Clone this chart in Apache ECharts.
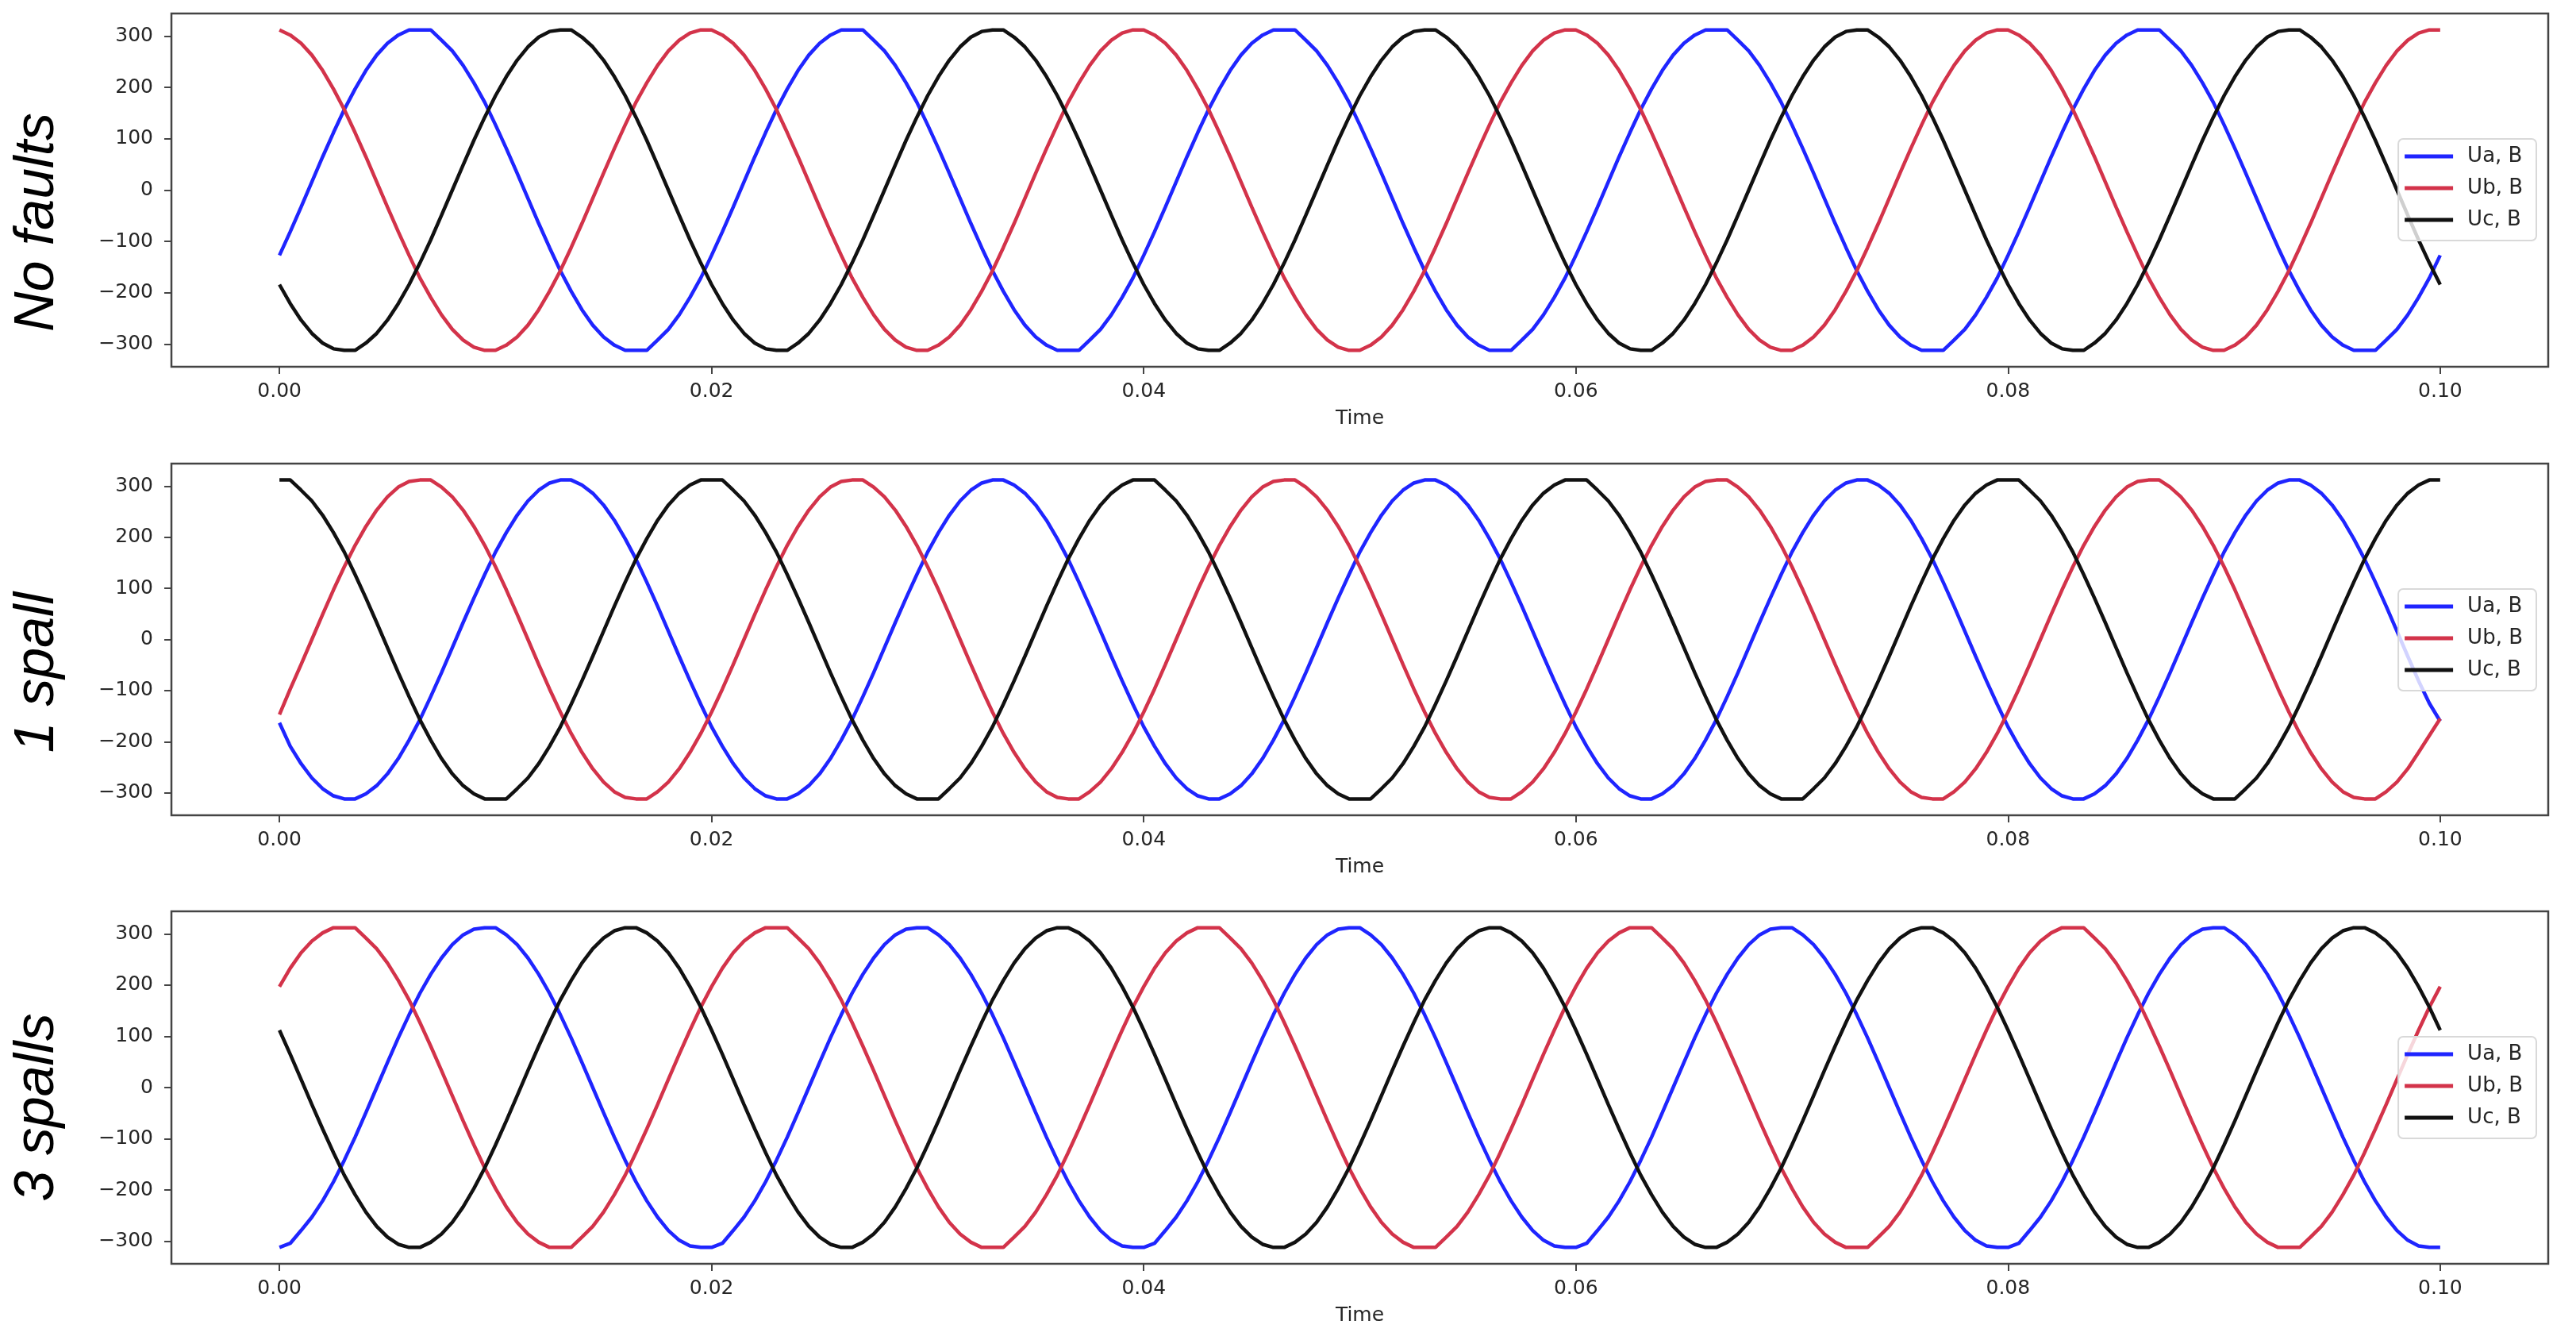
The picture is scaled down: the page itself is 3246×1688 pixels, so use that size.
<!DOCTYPE html>
<html>
<head>
<meta charset="utf-8">
<script src="https://cdn.jsdelivr.net/npm/echarts@6/dist/echarts.min.js"></script>
<style>
  html, body { margin: 0; padding: 0; background: #fff; }
  #chart { width: 3246px; height: 1688px; }
</style>
</head>
<body>
<div id="chart"></div>
<script>
// sample times, s
const time = [
  0,0.0005,0.001,0.0015,0.002,0.0025,0.003,0.0035,0.004,0.0045,0.005,0.0055,0.006,0.0065,0.007,0.0075,0.008,0.0085,0.009,0.0095,0.01,0.0105,0.011,0.0115,0.012,0.0125,0.013,0.0135,0.014,0.0145,0.015,0.0155,0.016,0.0165,0.017,0.0175,0.018,0.0185,0.019,0.0195,
  0.02,0.0205,0.021,0.0215,0.022,0.0225,0.023,0.0235,0.024,0.0245,0.025,0.0255,0.026,0.0265,0.027,0.0275,0.028,0.0285,0.029,0.0295,0.03,0.0305,0.031,0.0315,0.032,0.0325,0.033,0.0335,0.034,0.0345,0.035,0.0355,0.036,0.0365,0.037,0.0375,0.038,0.0385,0.039,0.0395,
  0.04,0.0405,0.041,0.0415,0.042,0.0425,0.043,0.0435,0.044,0.0445,0.045,0.0455,0.046,0.0465,0.047,0.0475,0.048,0.0485,0.049,0.0495,0.05,0.0505,0.051,0.0515,0.052,0.0525,0.053,0.0535,0.054,0.0545,0.055,0.0555,0.056,0.0565,0.057,0.0575,0.058,0.0585,0.059,0.0595,
  0.06,0.0605,0.061,0.0615,0.062,0.0625,0.063,0.0635,0.064,0.0645,0.065,0.0655,0.066,0.0665,0.067,0.0675,0.068,0.0685,0.069,0.0695,0.07,0.0705,0.071,0.0715,0.072,0.0725,0.073,0.0735,0.074,0.0745,0.075,0.0755,0.076,0.0765,0.077,0.0775,0.078,0.0785,0.079,0.0795,
  0.08,0.0805,0.081,0.0815,0.082,0.0825,0.083,0.0835,0.084,0.0845,0.085,0.0855,0.086,0.0865,0.087,0.0875,0.088,0.0885,0.089,0.0895,0.09,0.0905,0.091,0.0915,0.092,0.0925,0.093,0.0935,0.094,0.0945,0.095,0.0955,0.096,0.0965,0.097,0.0975,0.098,0.0985,0.099,0.0995,
  0.1
];

const xTicks = [0, 0.02, 0.04, 0.06, 0.08, 0.1];
const yTicks = [-300, -200, -100, 0, 100, 200, 300];
const panelTitles = ['No faults', '1 spall', '3 spalls'];
const seriesNames = ['Ua, B', 'Ub, B', 'Uc, B'];

// No faults
const noFaultUa = [
  -127,-81,-33,16,65,112,157,197,233,263,286,302,312,312,312,292,271,243,209,171,127,81,33,-16,-65,-112,-157,-197,-233,-263,-286,-302,-312,-312,-312,-292,-271,-243,-209,-171,
  -127,-81,-33,16,65,112,157,197,233,263,286,302,312,312,312,292,271,243,209,171,127,81,33,-16,-65,-112,-157,-197,-233,-263,-286,-302,-312,-312,-312,-292,-271,-243,-209,-171,
  -127,-81,-33,16,65,112,157,197,233,263,286,302,312,312,312,292,271,243,209,171,127,81,33,-16,-65,-112,-157,-197,-233,-263,-286,-302,-312,-312,-312,-292,-271,-243,-209,-171,
  -127,-81,-33,16,65,112,157,197,233,263,286,302,312,312,312,292,271,243,209,171,127,81,33,-16,-65,-112,-157,-197,-233,-263,-286,-302,-312,-312,-312,-292,-271,-243,-209,-171,
  -127,-81,-33,16,65,112,157,197,233,263,286,302,312,312,312,292,271,243,209,171,127,81,33,-16,-65,-112,-157,-197,-233,-263,-286,-302,-312,-312,-312,-292,-271,-243,-209,-171,
  -127
];
const noFaultUb = [
  312,302,286,263,233,197,157,112,65,16,-33,-81,-127,-171,-209,-243,-271,-292,-306,-312,-312,-302,-286,-263,-233,-197,-157,-112,-65,-16,33,81,127,171,209,243,271,292,306,312,
  312,302,286,263,233,197,157,112,65,16,-33,-81,-127,-171,-209,-243,-271,-292,-306,-312,-312,-302,-286,-263,-233,-197,-157,-112,-65,-16,33,81,127,171,209,243,271,292,306,312,
  312,302,286,263,233,197,157,112,65,16,-33,-81,-127,-171,-209,-243,-271,-292,-306,-312,-312,-302,-286,-263,-233,-197,-157,-112,-65,-16,33,81,127,171,209,243,271,292,306,312,
  312,302,286,263,233,197,157,112,65,16,-33,-81,-127,-171,-209,-243,-271,-292,-306,-312,-312,-302,-286,-263,-233,-197,-157,-112,-65,-16,33,81,127,171,209,243,271,292,306,312,
  312,302,286,263,233,197,157,112,65,16,-33,-81,-127,-171,-209,-243,-271,-292,-306,-312,-312,-302,-286,-263,-233,-197,-157,-112,-65,-16,33,81,127,171,209,243,271,292,306,312,
  312
];
const noFaultUc = [
  -184,-221,-253,-279,-298,-309,-312,-312,-298,-279,-253,-221,-184,-142,-97,-49,0,49,97,142,184,221,253,279,298,309,312,312,298,279,253,221,184,142,97,49,0,-49,-97,-142,
  -184,-221,-253,-279,-298,-309,-312,-312,-298,-279,-253,-221,-184,-142,-97,-49,0,49,97,142,184,221,253,279,298,309,312,312,298,279,253,221,184,142,97,49,0,-49,-97,-142,
  -184,-221,-253,-279,-298,-309,-312,-312,-298,-279,-253,-221,-184,-142,-97,-49,0,49,97,142,184,221,253,279,298,309,312,312,298,279,253,221,184,142,97,49,0,-49,-97,-142,
  -184,-221,-253,-279,-298,-309,-312,-312,-298,-279,-253,-221,-184,-142,-97,-49,0,49,97,142,184,221,253,279,298,309,312,312,298,279,253,221,184,142,97,49,0,-49,-97,-142,
  -184,-221,-253,-279,-298,-309,-312,-312,-298,-279,-253,-221,-184,-142,-97,-49,0,49,97,142,184,221,253,279,298,309,312,312,298,279,253,221,184,142,97,49,0,-49,-97,-142,
  -184
];

// 1 spall
const spall1Ua = [
  -163,-209,-243,-271,-292,-306,-312,-312,-302,-286,-263,-233,-197,-157,-112,-65,-16,33,81,127,171,209,243,271,292,306,312,312,302,286,263,233,197,157,112,65,16,-33,-81,-127,
  -171,-209,-243,-271,-292,-306,-312,-312,-302,-286,-263,-233,-197,-157,-112,-65,-16,33,81,127,171,209,243,271,292,306,312,312,302,286,263,233,197,157,112,65,16,-33,-81,-127,
  -171,-209,-243,-271,-292,-306,-312,-312,-302,-286,-263,-233,-197,-157,-112,-65,-16,33,81,127,171,209,243,271,292,306,312,312,302,286,263,233,197,157,112,65,16,-33,-81,-127,
  -171,-209,-243,-271,-292,-306,-312,-312,-302,-286,-263,-233,-197,-157,-112,-65,-16,33,81,127,171,209,243,271,292,306,312,312,302,286,263,233,197,157,112,65,16,-33,-81,-127,
  -171,-209,-243,-271,-292,-306,-312,-312,-302,-286,-263,-233,-197,-157,-112,-65,-16,33,81,127,171,209,243,271,292,306,312,312,302,286,263,233,197,157,112,65,16,-33,-81,-125,
  -160
];
const spall1Ub = [
  -147,-97,-49,0,49,97,142,184,221,253,279,298,309,312,312,298,279,253,221,184,142,97,49,0,-49,-97,-142,-184,-221,-253,-279,-298,-309,-312,-312,-298,-279,-253,-221,-184,
  -142,-97,-49,0,49,97,142,184,221,253,279,298,309,312,312,298,279,253,221,184,142,97,49,0,-49,-97,-142,-184,-221,-253,-279,-298,-309,-312,-312,-298,-279,-253,-221,-184,
  -142,-97,-49,0,49,97,142,184,221,253,279,298,309,312,312,298,279,253,221,184,142,97,49,0,-49,-97,-142,-184,-221,-253,-279,-298,-309,-312,-312,-298,-279,-253,-221,-184,
  -142,-97,-49,0,49,97,142,184,221,253,279,298,309,312,312,298,279,253,221,184,142,97,49,0,-49,-97,-142,-184,-221,-253,-279,-298,-309,-312,-312,-298,-279,-253,-221,-184,
  -142,-97,-49,0,49,97,142,184,221,253,279,298,309,312,312,298,279,253,221,184,142,97,49,0,-49,-97,-142,-184,-221,-253,-279,-298,-309,-312,-312,-298,-279,-253,-221,-188,
  -155
];
const spall1Uc = [
  312,312,292,271,243,209,171,127,81,33,-16,-65,-112,-157,-197,-233,-263,-286,-302,-312,-312,-312,-292,-271,-243,-209,-171,-127,-81,-33,16,65,112,157,197,233,263,286,302,312,
  312,312,292,271,243,209,171,127,81,33,-16,-65,-112,-157,-197,-233,-263,-286,-302,-312,-312,-312,-292,-271,-243,-209,-171,-127,-81,-33,16,65,112,157,197,233,263,286,302,312,
  312,312,292,271,243,209,171,127,81,33,-16,-65,-112,-157,-197,-233,-263,-286,-302,-312,-312,-312,-292,-271,-243,-209,-171,-127,-81,-33,16,65,112,157,197,233,263,286,302,312,
  312,312,292,271,243,209,171,127,81,33,-16,-65,-112,-157,-197,-233,-263,-286,-302,-312,-312,-312,-292,-271,-243,-209,-171,-127,-81,-33,16,65,112,157,197,233,263,286,302,312,
  312,312,292,271,243,209,171,127,81,33,-16,-65,-112,-157,-197,-233,-263,-286,-302,-312,-312,-312,-292,-271,-243,-209,-171,-127,-81,-33,16,65,112,157,197,233,263,286,302,312,
  312
];

// 3 spalls
const spall3Ua = [
  -312,-304,-279,-253,-221,-184,-142,-97,-49,0,49,97,142,184,221,253,279,298,309,312,312,298,279,253,221,184,142,97,49,0,-49,-97,-142,-184,-221,-253,-279,-298,-309,-312,
  -312,-304,-279,-253,-221,-184,-142,-97,-49,0,49,97,142,184,221,253,279,298,309,312,312,298,279,253,221,184,142,97,49,0,-49,-97,-142,-184,-221,-253,-279,-298,-309,-312,
  -312,-304,-279,-253,-221,-184,-142,-97,-49,0,49,97,142,184,221,253,279,298,309,312,312,298,279,253,221,184,142,97,49,0,-49,-97,-142,-184,-221,-253,-279,-298,-309,-312,
  -312,-304,-279,-253,-221,-184,-142,-97,-49,0,49,97,142,184,221,253,279,298,309,312,312,298,279,253,221,184,142,97,49,0,-49,-97,-142,-184,-221,-253,-279,-298,-309,-312,
  -312,-304,-279,-253,-221,-184,-142,-97,-49,0,49,97,142,184,221,253,279,298,309,312,312,298,279,253,221,184,142,97,49,0,-49,-97,-142,-184,-221,-253,-279,-298,-309,-312,
  -312
];
const spall3Ub = [
  197,233,263,286,302,312,312,312,292,271,243,209,171,127,81,33,-16,-65,-112,-157,-197,-233,-263,-286,-302,-312,-312,-312,-292,-271,-243,-209,-171,-127,-81,-33,16,65,112,157,
  197,233,263,286,302,312,312,312,292,271,243,209,171,127,81,33,-16,-65,-112,-157,-197,-233,-263,-286,-302,-312,-312,-312,-292,-271,-243,-209,-171,-127,-81,-33,16,65,112,157,
  197,233,263,286,302,312,312,312,292,271,243,209,171,127,81,33,-16,-65,-112,-157,-197,-233,-263,-286,-302,-312,-312,-312,-292,-271,-243,-209,-171,-127,-81,-33,16,65,112,157,
  197,233,263,286,302,312,312,312,292,271,243,209,171,127,81,33,-16,-65,-112,-157,-197,-233,-263,-286,-302,-312,-312,-312,-292,-271,-243,-209,-171,-127,-81,-33,16,65,112,157,
  197,233,263,286,302,312,312,312,292,271,243,209,171,127,81,33,-16,-65,-112,-157,-197,-233,-263,-286,-302,-312,-312,-312,-292,-271,-243,-209,-171,-127,-81,-33,16,65,112,157,
  197
];
const spall3Uc = [
  112,65,16,-33,-81,-127,-171,-209,-243,-271,-292,-306,-312,-312,-302,-286,-263,-233,-197,-157,-112,-65,-16,33,81,127,171,209,243,271,292,306,312,312,302,286,263,233,197,157,
  112,65,16,-33,-81,-127,-171,-209,-243,-271,-292,-306,-312,-312,-302,-286,-263,-233,-197,-157,-112,-65,-16,33,81,127,171,209,243,271,292,306,312,312,302,286,263,233,197,157,
  112,65,16,-33,-81,-127,-171,-209,-243,-271,-292,-306,-312,-312,-302,-286,-263,-233,-197,-157,-112,-65,-16,33,81,127,171,209,243,271,292,306,312,312,302,286,263,233,197,157,
  112,65,16,-33,-81,-127,-171,-209,-243,-271,-292,-306,-312,-312,-302,-286,-263,-233,-197,-157,-112,-65,-16,33,81,127,171,209,243,271,292,306,312,312,302,286,263,233,197,157,
  112,65,16,-33,-81,-127,-171,-209,-243,-271,-292,-306,-312,-312,-302,-286,-263,-233,-197,-157,-112,-65,-16,33,81,127,171,209,243,271,292,306,312,312,302,286,263,233,197,157,
  112
];

const panels = [
  [noFaultUa, noFaultUb, noFaultUc],
  [spall1Ua, spall1Ub, spall1Uc],
  [spall3Ua, spall3Ub, spall3Uc],
];

const colors = ['#1f25ff', '#d3334a', '#111111'];
const gridTops = [17, 584, 1148];
const gridHeights = [445, 443, 444];
const legendTops = [175, 742, 1306];
const titleY = [280, 847, 1395];
const font = 'DejaVu Sans';
const ink = '#262626';
const frame = '#444';

const chart = echarts.init(document.getElementById('chart'));

const option = {
  animation: false,
  backgroundColor: '#fff',
  grid: gridTops.map((top, i) => ({
    left: 216, top: top, width: 2995, height: gridHeights[i],
    show: true, borderColor: frame, borderWidth: 2.5, backgroundColor: 'transparent',
  })),
  xAxis: gridTops.map((_, i) => ({
    type: 'value', gridIndex: i, min: -0.005, max: 0.105,
    name: 'Time', nameLocation: 'middle', nameGap: 53,
    nameTextStyle: { fontFamily: font, fontSize: 25, color: ink },
    axisLine: { show: false, onZero: false },
    axisTick: { show: true, customValues: xTicks, length: 9, lineStyle: { color: frame, width: 2 } },
    axisLabel: { customValues: xTicks, formatter: v => v.toFixed(2), margin: 19,
      fontFamily: font, fontSize: 25, color: ink },
    splitLine: { show: false },
  })),
  yAxis: gridTops.map((_, i) => ({
    type: 'value', gridIndex: i, min: -344, max: 344,
    axisLine: { show: false, onZero: false },
    axisTick: { show: true, customValues: yTicks, length: 9, lineStyle: { color: frame, width: 2 } },
    axisLabel: { customValues: yTicks, margin: 23, fontFamily: font, fontSize: 25, color: ink,
      formatter: v => (v < 0 ? '\u2212' + (-v) : String(v)) },
    splitLine: { show: false },
  })),
  legend: legendTops.map(top => ({
    orient: 'vertical', right: 50, top: top,
    data: seriesNames, selectedMode: false, z: 10,
    icon: 'rect', itemWidth: 61, itemHeight: 5, itemGap: 14,
    padding: [9, 17, 13, 8],
    backgroundColor: 'rgba(255,255,255,0.8)',
    borderColor: '#d9d9d9', borderWidth: 2, borderRadius: 6,
    textStyle: { fontFamily: font, fontSize: 26, lineHeight: 26, color: ink, padding: [0, 0, 0, 13] },
  })),
  graphic: panelTitles.map((t, i) => ({
    type: 'text', x: 48, y: titleY[i], rotation: Math.PI / 2,
    style: { text: t, fontFamily: 'Liberation Sans', fontStyle: 'italic', fontSize: 70,
      fill: '#000', align: 'center', verticalAlign: 'middle' },
  })),
  series: [],
};

panels.forEach((arrs, i) => {
  arrs.forEach((vals, j) => {
    option.series.push({
      type: 'line', name: seriesNames[j],
      xAxisIndex: i, yAxisIndex: i,
      data: time.map((t, k) => [t, vals[k]]),
      symbol: 'none', showSymbol: false,
      lineStyle: { width: 4.5, color: colors[j] },
      itemStyle: { color: colors[j] },
    });
  });
});

chart.setOption(option);
</script>
</body>
</html>
